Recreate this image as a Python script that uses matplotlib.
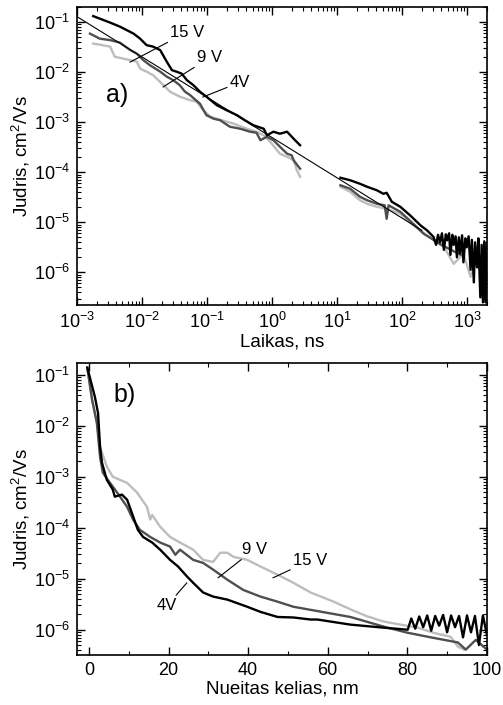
import numpy as np
import matplotlib
matplotlib.use("Agg")
import matplotlib.pyplot as plt
from matplotlib.ticker import FixedLocator, MultipleLocator, NullFormatter

plt.rcParams['font.family'] = ['Liberation Sans', 'DejaVu Sans']
plt.rcParams['mathtext.fontset'] = 'custom'
plt.rcParams['mathtext.rm'] = 'Liberation Sans'
plt.rcParams['mathtext.default'] = 'regular'
plt.rcParams['axes.unicode_minus'] = False

# --- (a) mobility vs time, log10 values ---
# 4 V (black), two segments
a4_t1 = [-2.75, -2.65, -2.49, -2.34, -2.13, -2.03, -1.93, -1.83, -1.72, -1.62, -1.54, -1.47,
         -1.39, -1.31, -1.21, -1.11, -1.01, -0.85, -0.70, -0.54, -0.42, -0.29, -0.13, -0.08,
         0.02, 0.12, 0.23, 0.33, 0.43]
a4_m1 = [-0.88, -0.93, -1.01, -1.09, -1.23, -1.33, -1.46, -1.49, -1.56, -1.79, -1.96, -1.99,
         -2.03, -2.16, -2.26, -2.39, -2.49, -2.66, -2.76, -2.86, -2.96, -3.06, -3.13, -3.26,
         -3.19, -3.23, -3.19, -3.33, -3.46]
a4_t2 = [1.05, 1.20, 1.35, 1.46, 1.61, 1.71, 1.76, 1.84, 1.97, 2.12, 2.28, 2.38, 2.48,
         2.52, 2.55, 2.58, 2.61, 2.64, 2.67, 2.69, 2.72, 2.74, 2.77, 2.79, 2.82, 2.84, 2.87,
         2.89, 2.92, 2.94, 2.97, 2.99, 3.02, 3.05, 3.07, 3.10, 3.12, 3.15, 3.17, 3.20, 3.22,
         3.24, 3.26, 3.28, 3.30]
a4_m2 = [-4.11, -4.16, -4.23, -4.29, -4.36, -4.43, -4.41, -4.59, -4.69, -4.86, -5.06, -5.16, -5.29,
         -5.45, -5.25, -5.40, -5.22, -5.55, -5.24, -5.36, -5.22, -5.65, -5.25, -5.45, -5.28,
         -5.70, -5.30, -5.62, -5.26, -5.80, -5.32, -5.50, -5.28, -5.95, -5.35, -6.20, -5.40,
         -5.90, -5.32, -6.50, -5.45, -6.60, -5.38, -6.60, -5.42]

# 9 V (dark grey)
a9_t1 = [-2.80, -2.65, -2.49, -2.34, -2.18, -2.08, -1.98, -1.88, -1.72, -1.62, -1.52, -1.42,
         -1.34, -1.26, -1.11, -1.01, -0.90, -0.80, -0.65, -0.49, -0.34, -0.24, -0.18, -0.08,
         0.02, 0.12, 0.23, 0.30, 0.33, 0.43]
a9_m1 = [-1.23, -1.33, -1.36, -1.41, -1.56, -1.63, -1.76, -1.86, -1.99, -2.09, -2.16, -2.26,
         -2.39, -2.46, -2.63, -2.86, -2.93, -2.96, -3.09, -3.13, -3.19, -3.21, -3.36, -3.29,
         -3.36, -3.49, -3.63, -3.66, -3.76, -3.93]
a9_t2 = [1.05, 1.20, 1.35, 1.46, 1.61, 1.73, 1.76, 1.79, 1.97, 2.17, 2.33, 2.48, 2.60, 2.75, 2.90]
a9_m2 = [-4.26, -4.33, -4.49, -4.56, -4.63, -4.66, -4.93, -4.66, -4.79, -5.03, -5.23, -5.35, -5.45,
         -5.55, -5.65]

# 15 V (light grey)
a15_t1 = [-2.75, -2.65, -2.49, -2.42, -2.29, -2.18, -2.08, -2.03, -1.93, -1.83, -1.67, -1.57,
          -1.42, -1.26, -1.16, -1.06, -0.95, -0.80, -0.59, -0.39, -0.24, -0.13, -0.03, 0.12,
          0.23, 0.33, 0.38, 0.43]
a15_m1 = [-1.43, -1.45, -1.49, -1.69, -1.73, -1.76, -1.79, -1.93, -1.99, -2.06, -2.26, -2.39,
          -2.49, -2.56, -2.59, -2.76, -2.89, -2.95, -3.03, -3.13, -3.19, -3.26, -3.39, -3.63,
          -3.69, -3.76, -3.96, -4.09]
a15_t2 = [1.05, 1.20, 1.35, 1.46, 1.61, 1.76, 1.97, 2.17, 2.38, 2.64, 2.79, 2.94, 3.05, 3.15, 3.25]
a15_m2 = [-4.29, -4.39, -4.56, -4.63, -4.69, -4.73, -4.83, -5.06, -5.26, -5.49, -5.83, -5.63,
          -6.09, -5.70, -6.30]

# power-law fit line (log10 end points)
fit_t = [-3.0, 2.3]
fit_m = [-0.89, -5.16]

# --- (b) mobility vs travelled distance ---
b4_x = [-0.4, 1.5, 2.3, 2.8, 3.3, 4.5, 6.0, 6.5, 8.3, 9.6, 10.8, 12.3, 13.6, 15.9, 17.9, 20.4,
        22.4, 24.7, 26.2, 28.7, 31.2, 34.8, 39.8, 43.1, 47.4, 51.4, 55.7, 57.4, 65.7, 74.1, 80.1,
        81.0, 82.0, 83.0, 84.0, 85.0, 86.0, 87.0, 88.0, 89.0, 90.0, 91.0, 92.0, 93.0, 94.0,
        95.0, 96.0, 97.0, 98.0, 99.0, 100.0]
b4_m = [-0.86, -1.43, -1.75, -2.41, -2.73, -3.06, -3.25, -3.39, -3.35, -3.45, -3.71, -4.04,
        -4.18, -4.29, -4.43, -4.63, -4.76, -4.96, -5.08, -5.27, -5.35, -5.41, -5.55, -5.65,
        -5.75, -5.76, -5.80, -5.80, -5.90, -5.96, -6.00, -5.78, -5.98, -5.74, -5.95, -5.72,
        -6.02, -5.73, -5.92, -5.71, -6.05, -5.72, -5.95, -5.73, -6.15, -5.72, -6.05, -5.73,
        -6.30, -5.72, -6.10]

b9_x = [-0.4, 0.8, 2.0, 2.8, 3.5, 5.3, 7.1, 9.6, 11.1, 12.8, 15.4, 17.9, 20.4, 21.7, 22.9,
        26.2, 28.7, 31.2, 34.8, 38.8, 43.1, 47.4, 51.4, 55.7, 65.7, 74.1, 80.1, 86.6, 92.7,
        94.7, 97.2, 100.0]
b9_m = [-0.86, -1.49, -1.94, -2.61, -2.92, -3.12, -3.31, -3.59, -3.84, -4.04, -4.18, -4.29,
        -4.37, -4.53, -4.43, -4.63, -4.69, -4.82, -5.02, -5.22, -5.35, -5.45, -5.55, -5.61,
        -5.75, -5.94, -6.06, -6.16, -6.25, -6.39, -6.20, -6.39]

b15_x = [-0.4, 0.8, 2.0, 2.8, 4.5, 6.0, 9.6, 12.1, 14.6, 15.4, 15.9, 17.9, 20.4, 22.9, 26.2,
         28.7, 31.2, 33.0, 34.8, 36.3, 39.8, 43.1, 47.4, 51.4, 55.7, 61.5, 65.7, 70.0, 74.1,
         78.3, 82.6, 86.6, 90.9, 92.7, 94.2]
b15_m = [-0.86, -1.49, -1.94, -2.41, -2.80, -3.00, -3.12, -3.31, -3.59, -3.84, -3.75, -3.98,
         -4.18, -4.29, -4.43, -4.63, -4.67, -4.49, -4.49, -4.57, -4.63, -4.76, -4.92, -5.08,
         -5.27, -5.45, -5.60, -5.74, -5.84, -5.90, -5.96, -6.06, -6.14, -6.33, -6.39]

# tick decades
a_xdec = [-3, -2, -1, 0, 1, 2, 3]
a_ydec = [-6, -5, -4, -3, -2, -1]
b_ydec = [-6, -5, -4, -3, -2, -1]

BLACK = '#000000'
DARK = '#4f4f4f'
LIGHT = '#bdbdbd'


def p(v):
    return 10 ** np.array(v, dtype=float)


def minor_ticks(lo, hi):
    out = []
    for d in range(lo - 1, hi + 1):
        for k in range(2, 10):
            v = k * 10.0 ** d
            if 10.0 ** (lo - 1) < v:
                out.append(v)
    return out


fig = plt.figure(figsize=(5.03, 7.05), dpi=100)
ax1 = fig.add_axes([0.153, 0.567, 0.815, 0.423])
ax2 = fig.add_axes([0.153, 0.071, 0.815, 0.414])

# panel a
ax1.plot(p(a15_t1), p(a15_m1), color=LIGHT, lw=1.7)
ax1.plot(p(a15_t2), p(a15_m2), color=LIGHT, lw=1.7)
ax1.plot(p(a9_t1), p(a9_m1), color=DARK, lw=1.7)
ax1.plot(p(a9_t2), p(a9_m2), color=DARK, lw=1.7)
ax1.plot(p(a4_t1), p(a4_m1), color=BLACK, lw=1.7)
ax1.plot(p(a4_t2), p(a4_m2), color=BLACK, lw=1.7)
ax1.plot(p(fit_t), p(fit_m), color='black', lw=0.8)
ax1.set_xscale('log')
ax1.set_yscale('log')
ax1.set_xticks(p(a_xdec))
ax1.set_yticks(p(a_ydec))
ax1.xaxis.set_minor_locator(FixedLocator(minor_ticks(-3, 3)))
ax1.yaxis.set_minor_locator(FixedLocator(minor_ticks(-6, -1)))
ax1.set_xlim(1e-3, 2e3)
ax1.set_ylim(2.2e-7, 0.2)
ax1.set_xlabel('Laikas, ns', fontsize=13.5, labelpad=1)
ax1.set_ylabel('Judris, cm$^2$/Vs', fontsize=13.5, labelpad=1)

# panel b
ax2.plot(b15_x, p(b15_m), color=LIGHT, lw=1.7)
ax2.plot(b9_x, p(b9_m), color=DARK, lw=1.7)
ax2.plot(b4_x, p(b4_m), color=BLACK, lw=1.7)
ax2.set_yscale('log')
ax2.set_yticks(p(b_ydec))
ax2.yaxis.set_minor_locator(FixedLocator(minor_ticks(-6, -1)))
ax2.set_xlim(-3, 100)
ax2.set_ylim(3.2e-7, 0.17)
ax2.xaxis.set_major_locator(MultipleLocator(20))
ax2.xaxis.set_minor_locator(MultipleLocator(10))
ax2.set_xlabel('Nueitas kelias, nm', fontsize=13.5, labelpad=1)
ax2.set_ylabel('Judris, cm$^2$/Vs', fontsize=13.5, labelpad=1)

for ax in (ax1, ax2):
    ax.xaxis.set_minor_formatter(NullFormatter())
    ax.yaxis.set_minor_formatter(NullFormatter())
    ax.tick_params(which='both', direction='in', top=True, right=True, labelsize=13, pad=5)
    ax.tick_params(which='major', length=6, width=1)
    ax.tick_params(which='minor', length=3, width=0.8)
    for s in ax.spines.values():
        s.set_linewidth(1.2)

# annotations (axes fraction)
arrow = dict(arrowstyle='-', color='black', lw=0.8, shrinkA=0, shrinkB=0)
ax1.text(0.098, 0.705, 'a)', transform=ax1.transAxes, fontsize=18, ha='center', va='center')
ax1.annotate('15 V', xy=(0.129, 0.815), xytext=(0.227, 0.916), xycoords='axes fraction',
             textcoords='axes fraction', fontsize=12, ha='left', va='center', arrowprops=arrow)
ax1.annotate('9 V', xy=(0.210, 0.732), xytext=(0.293, 0.805), xycoords='axes fraction',
             textcoords='axes fraction', fontsize=12, ha='left', va='bottom', arrowprops=arrow)
ax1.annotate('4V', xy=(0.307, 0.698), xytext=(0.373, 0.748), xycoords='axes fraction',
             textcoords='axes fraction', fontsize=12, ha='left', va='center', arrowprops=arrow)

ax2.text(0.117, 0.890, 'b)', transform=ax2.transAxes, fontsize=18, ha='center', va='center')
ax2.annotate('9 V', xy=(0.344, 0.264), xytext=(0.402, 0.336), xycoords='axes fraction',
             textcoords='axes fraction', fontsize=12, ha='left', va='bottom', arrowprops=arrow)
ax2.annotate('15 V', xy=(0.478, 0.264), xytext=(0.527, 0.298), xycoords='axes fraction',
             textcoords='axes fraction', fontsize=12, ha='left', va='bottom', arrowprops=arrow)
ax2.annotate('4V', xy=(0.268, 0.247), xytext=(0.220, 0.195), xycoords='axes fraction',
             textcoords='axes fraction', fontsize=12, ha='center', va='top', arrowprops=arrow)

fig.savefig('out.png', dpi=100)
